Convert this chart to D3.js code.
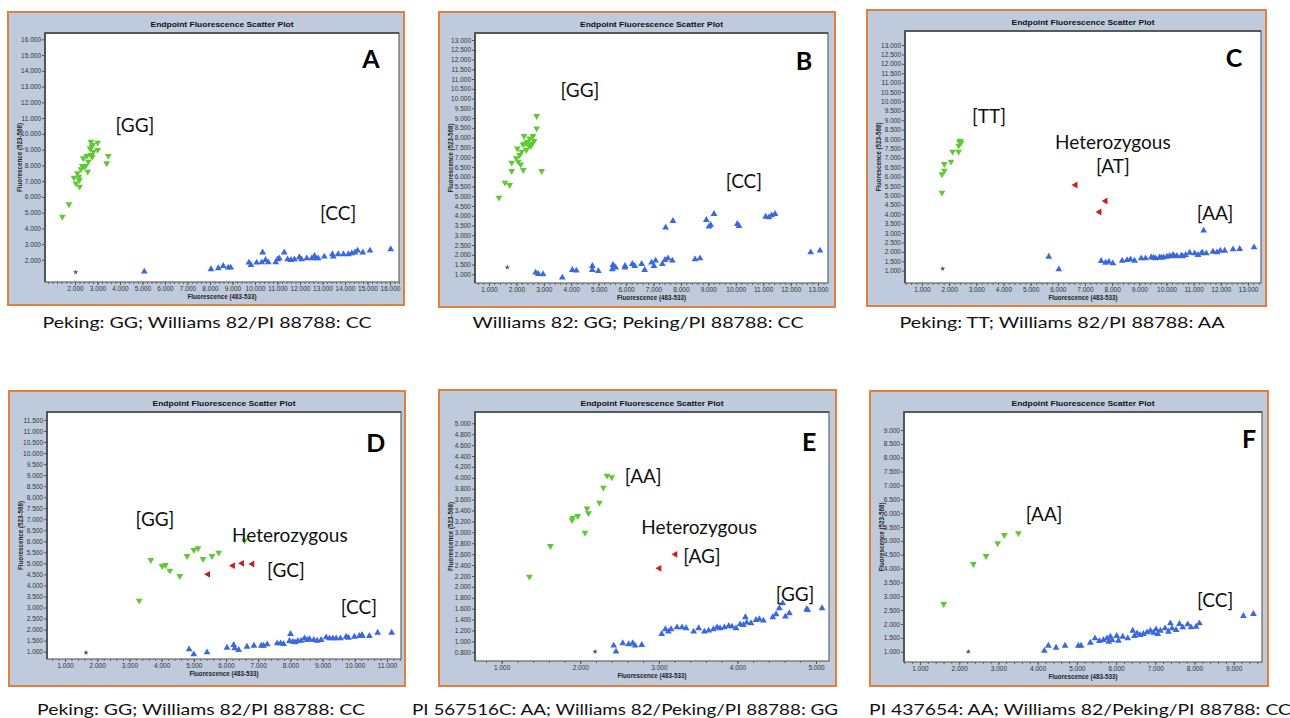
<!DOCTYPE html>
<html>
<head>
<meta charset="utf-8">
<script src="https://cdn.jsdelivr.net/npm/d3@7"></script>
<style>
    body { margin: 0; background: #fff; }
    svg { display: block; }
</style>
</head>
<body>
<script>
(function () {

    'use strict'

    // ---- data (fluorescence units) ----

    // panel A
    const aGreen = [[1437, 4748], [1733, 5530], [1956, 7222], [2044, 6860], [2104, 7500], [2178, 7285], [2207, 6650],
        [2193, 7074], [2267, 7750], [2326, 7960], [2415, 7920], [2370, 8450], [2474, 7980], [2518, 8600], [2563, 7600],
        [2593, 8240], [2667, 9080], [2696, 8660], [2711, 9500], [2741, 9190], [2770, 8550], [2785, 9290], [2815, 8870],
        [3007, 9440], [3007, 8980], [3407, 8130], [3481, 8600]]
    const aBlue = [[5081, 1260], [8044, 1410], [8370, 1470], [8590, 1620], [8810, 1510], [8920, 1510], [9730, 1830],
        [9820, 1680], [10070, 1830], [10300, 1850], [10340, 2470], [10470, 2000], [10590, 1850], [10920, 1850],
        [11010, 2040], [11080, 2100], [11300, 2470], [11450, 2040], [11600, 2000], [11750, 2040], [11970, 2170],
        [12070, 2040], [12300, 2100], [12520, 2100], [12640, 2250], [12710, 2100], [12810, 2100], [13080, 2210],
        [13440, 2360], [13480, 2210], [13700, 2360], [13930, 2360], [14150, 2360], [14300, 2420], [14440, 2470],
        [14560, 2590], [14790, 2470], [15110, 2590], [16030, 2680]]
    const aRed = []
    const aGray = [[2030, 1220]]

    // panel B
    const bGreen = [[1365, 4925], [1584, 5693], [1754, 5573], [1827, 6290], [1827, 6717], [1997, 6940], [2033, 7450],
        [2070, 6770], [2119, 7110], [2155, 6630], [2191, 7280], [2240, 7655], [2277, 8082], [2252, 6340], [2313, 7706],
        [2362, 7365], [2398, 7790], [2435, 7620], [2483, 7960], [2520, 7570], [2605, 8080], [2641, 7830], [2739, 8475],
        [2739, 9105], [2921, 6290], [2580, 7706]]
    const bBlue = [[2702, 1085], [2800, 1017], [2970, 1000], [3675, 830], [4040, 1222], [4185, 1188], [4770, 1427],
        [4770, 1222], [4988, 1170], [5500, 1256], [5520, 1478], [5560, 1390], [5620, 1340], [5960, 1427], [5960, 1340],
        [6228, 1530], [6313, 1427], [6568, 1530], [6678, 1222], [6930, 1597], [7018, 1427], [7079, 1700], [7322, 1530],
        [7420, 1734], [7444, 3389], [7529, 1819], [7711, 3730], [7687, 1700], [8514, 1768], [8696, 1819], [8927, 3782],
        [9024, 3440], [9085, 3525], [9207, 4089], [10058, 3577], [10119, 3474], [11091, 3952], [11213, 3918],
        [11310, 4020], [11432, 4089], [12733, 2126], [13073, 2212]]
    const bRed = []
    const bGray = [[1669, 1358]]

    // panel C
    const cGreen = [[1737, 5149], [1737, 6124], [1823, 6319], [1823, 6674], [2069, 6798], [2130, 7330], [2351, 7649],
        [2351, 7330], [2376, 7862], [2437, 7809], [2413, 7915]]
    const cBlue = [[5668, 1745], [6037, 1071], [7597, 1514], [7757, 1426], [7880, 1479], [8027, 1390], [8370, 1532],
        [8677, 1603], [8825, 1532], [9071, 1656], [9231, 1656], [9440, 1709], [9600, 1656], [9747, 1709], [9894, 1709],
        [10017, 1745], [10115, 1780], [10238, 1833], [10386, 1780], [10545, 1798], [10705, 1833], [10853, 1957],
        [11037, 1922], [11160, 1833], [11283, 1922], [11320, 1957], [11369, 3128], [11467, 1922], [11712, 2011],
        [11860, 1975], [11982, 2064], [12142, 2064], [12449, 2135], [12695, 2152], [13223, 2241], [9520, 1680],
        [9810, 1690], [10300, 1760], [10600, 1770], [8550, 1560]]
    const cRed = [[6651, 5557], [7757, 4706], [7535, 4121]]
    const cGray = [[1762, 1106]]

    // panel D
    const dGreen = [[3304, 3311], [3665, 5154], [4017, 4882], [4120, 4927], [4254, 4671], [4564, 4429], [4791, 5335],
        [4998, 5607], [5132, 5683], [5287, 5199], [5566, 5335], [5773, 5486], [6579, 6030]]
    const dBlue = [[4853, 1106], [4998, 879], [5411, 970], [6031, 1181], [6238, 1302], [6269, 1151], [6393, 1076],
        [6651, 1227], [6868, 1272], [7095, 1272], [7167, 1272], [7281, 1332], [7591, 1378], [7694, 1378], [7787, 1347],
        [8004, 1800], [7973, 1483], [8076, 1453], [8149, 1423], [8231, 1483], [8335, 1498], [8438, 1604], [8521, 1529],
        [8593, 1574], [8727, 1529], [8831, 1498], [8955, 1529], [9110, 1650], [9213, 1604], [9316, 1604], [9420, 1604],
        [9554, 1604], [9730, 1680], [9802, 1634], [9988, 1680], [10143, 1710], [10215, 1710], [10453, 1710],
        [10711, 1861], [11145, 1861], [10225, 1755]]
    const dRed = [[5442, 4505], [6217, 4897], [6496, 5003], [6816, 4973]]
    const dGray = [[1651, 955]]

    // panel E
    const eGreen = [[1352, 2188], [1619, 2750], [1895, 3227], [1904, 3270], [1967, 3300], [2060, 2994], [2086, 3440],
        [2103, 3349], [2243, 3544], [2294, 3820], [2340, 4040], [2400, 4009]]
    const eBlue = [[2425, 922], [2455, 812], [2540, 965], [2616, 947], [2667, 965], [2697, 922], [2782, 935],
        [3036, 1136], [3083, 1222], [3121, 1179], [3155, 1222], [3231, 1258], [3295, 1258], [3346, 1240], [3443, 1179],
        [3507, 1240], [3579, 1179], [3634, 1197], [3694, 1222], [3740, 1258], [3778, 1240], [3834, 1258], [3889, 1283],
        [3931, 1271], [3982, 1240], [4033, 1313], [4075, 1301], [4101, 1442], [4118, 1344], [4173, 1332], [4236, 1393],
        [4278, 1405], [4330, 1381], [4449, 1442], [4491, 1497], [4533, 1607], [4576, 1699], [4610, 1454], [4661, 1515],
        [4881, 1589], [5076, 1607], [4894, 1576]]
    const eRed = [[3006, 2340], [3210, 2597]]
    const eGray = [[2188, 812]]

    // panel F
    const fGreen = [[1604, 2721], [2361, 4165], [2684, 4454], [2981, 4911], [3151, 5212], [3509, 5272]]
    const fBlue = [[4172, 1036], [4274, 1217], [4469, 1144], [4699, 1217], [5039, 1217], [5107, 1217], [5345, 1325],
        [5464, 1481], [5575, 1385], [5677, 1421], [5770, 1481], [5813, 1361], [5855, 1541], [5898, 1421], [6017, 1565],
        [6060, 1397], [6170, 1541], [6298, 1481], [6425, 1758], [6468, 1565], [6536, 1662], [6612, 1602], [6697, 1638],
        [6791, 1698], [6876, 1758], [6952, 1686], [7020, 1806], [7063, 1638], [7131, 1758], [7250, 1842], [7335, 1722],
        [7386, 2023], [7429, 1842], [7531, 1782], [7616, 1999], [7701, 1878], [7828, 1987], [7913, 1878], [8041, 1902],
        [8126, 2023], [9249, 2288], [9503, 2360]]
    const fRed = []
    const fGray = [[2233, 1000]]

    // tick values
    const aXTicks = d3.range(2000, 16001, 1000), aYTicks = d3.range(2000, 16001, 1000)
    const bXTicks = d3.range(1000, 13001, 1000), bYTicks = d3.range(1000, 13001, 500)
    const cXTicks = d3.range(1000, 13001, 1000), cYTicks = d3.range(1000, 13001, 500)
    const dXTicks = d3.range(1000, 11001, 1000), dYTicks = d3.range(1000, 11501, 500)
    const eXTicks = d3.range(1000, 5001, 1000), eYTicks = d3.range(800, 5001, 200)
    const fXTicks = d3.range(1000, 9001, 1000), fYTicks = d3.range(1000, 9001, 500)

    // texts
    const plotTitle = 'Endpoint Fluorescence Scatter Plot'
    const xTitle = 'Fluorescence (483-533)'
    const yTitle = 'Fluorescence (523-568)'
    const captions = [
        'Peking: GG; Williams 82/PI 88788: CC',
        'Williams 82: GG; Peking/PI 88788: CC',
        'Peking: TT; Williams 82/PI 88788: AA',
        'Peking: GG; Williams 82/PI 88788: CC',
        'PI 567516C: AA; Williams 82/Peking/PI 88788: GG',
        'PI 437654: AA; Williams 82/Peking/PI 88788: CC'
    ]
    const letters = ['A', 'B', 'C', 'D', 'E', 'F']
    const aNotes = ['[GG]', '[CC]']
    const bNotes = ['[GG]', '[CC]']
    const cNotes = ['[TT]', 'Heterozygous', '[AT]', '[AA]']
    const dNotes = ['[GG]', 'Heterozygous', '[GC]', '[CC]']
    const eNotes = ['[AA]', 'Heterozygous', '[AG]', '[GG]']
    const fNotes = ['[AA]', '[CC]']

    // ---- layout ----
    const panels = [
        { box: [8, 12, 404, 305], plot: [45, 33, 399, 282], x: [667, 16400], y: [600, 16400],
          xTicks: aXTicks, yTicks: aYTicks, green: aGreen, blue: aBlue, red: aRed, gray: aGray,
          notes: aNotes, notePos: [[0.254, 0.369], [0.828, 0.719]], letterPos: [0.921, 0.10],
          cap: [207, 321, 329] },
        { box: [439, 12, 835, 307], plot: [475, 33, 828, 283], x: [490, 13365], y: [554, 13360],
          xTicks: bXTicks, yTicks: bYTicks, green: bGreen, blue: bBlue, red: bRed, gray: bGray,
          notes: bNotes, notePos: [[0.297, 0.224], [0.762, 0.588]], letterPos: [0.932, 0.108],
          cap: [638, 321, 331] },
        { box: [867, 10, 1266, 306], plot: [905, 31, 1261, 283], x: [375, 13480], y: [345, 13745],
          xTicks: cXTicks, yTicks: cYTicks, green: cGreen, blue: cBlue, red: cRed, gray: cGray,
          notes: cNotes, notePos: [[0.236, 0.337], [0.584, 0.44], [0.584, 0.532], [0.871, 0.722]], letterPos: [0.924, 0.103],
          cap: [1062, 321, 325] },
        { box: [9, 391, 405, 686], plot: [47, 412, 401, 659], x: [440, 11435], y: [669, 11860],
          xTicks: dXTicks, yTicks: dYTicks, green: dGreen, blue: dBlue, red: dRed, gray: dGray,
          notes: dNotes, notePos: [[0.305, 0.433], [0.686, 0.494], [0.675, 0.636], [0.881, 0.789]], letterPos: [0.929, 0.121],
          cap: [201, 708, 328] },
        { box: [439, 390, 836, 686], plot: [475, 412, 829, 661], x: [660, 5165], y: [640, 5207],
          xTicks: eXTicks, yTicks: eYTicks, green: eGreen, blue: eBlue, red: eRed, gray: eGray,
          notes: eNotes, notePos: [[0.475, 0.257], [0.633, 0.458], [0.641, 0.578], [0.904, 0.727]], letterPos: [0.944, 0.116],
          cap: [625, 708, 426] },
        { box: [870, 391, 1268, 686], plot: [904, 412, 1262, 662], x: [592, 9722], y: [628, 9650],
          xTicks: fXTicks, yTicks: fYTicks, green: fGreen, blue: fBlue, red: fRed, gray: fGray,
          notes: fNotes, notePos: [[0.391, 0.404], [0.869, 0.748]], letterPos: [0.964, 0.104],
          cap: [1080, 708, 422] }
    ]

    const fmt = v => (v / 1000).toFixed(3)

    const svg = d3.select('body')
        .append('svg')
        .attr('width', 1290)
        .attr('height', 718)

    panels.forEach((p, i) => drawPanel(p, i))

    function drawPanel(p, i) {
        const [bx0, by0, bx1, by1] = p.box
        const [px0, py0, px1, py1] = p.plot
        const g = svg.append('g')

        // frame
        g.append('rect')
            .attr('x', bx0).attr('y', by0)
            .attr('width', bx1 - bx0).attr('height', by1 - by0)
            .attr('fill', '#bfcbdd')
            .attr('stroke', '#e2803f')
            .attr('stroke-width', 2)

        g.append('text')
            .attr('x', (px0 + px1) / 2)
            .attr('y', py0 - 6)
            .attr('text-anchor', 'middle')
            .attr('textLength', 143)
            .attr('lengthAdjust', 'spacingAndGlyphs')
            .style('font', 'bold 8px "Liberation Sans", Arial, sans-serif')
            .attr('fill', '#111')
            .text(plotTitle)

        g.append('rect')
            .attr('x', px0).attr('y', py0)
            .attr('width', px1 - px0).attr('height', py1 - py0)
            .attr('fill', '#fff')

        const xScale = d3.scaleLinear().domain(p.x).range([px0, px1])
        const yScale = d3.scaleLinear().domain(p.y).range([py1, py0])

        // x axis
        const step = p.xTicks[1] - p.xTicks[0]
        const minor = d3.range(p.x[0], p.x[1], step / 5)
            .map(v => Math.ceil(v / (step / 5)) * (step / 5))
            .filter(v => v <= p.x[1])
        const xAxis = g.append('g')
            .attr('transform', 'translate(0,' + py1 + ')')
            .call(d3.axisBottom(xScale).tickValues(minor).tickSize(2).tickFormat(''))
        xAxis.select('.domain').remove()
        xAxis.selectAll('line').attr('stroke', '#666')

        const xMajor = g.append('g')
            .attr('transform', 'translate(0,' + py1 + ')')
            .call(d3.axisBottom(xScale).tickValues(p.xTicks).tickSize(3).tickPadding(1).tickFormat(fmt))
        xMajor.select('.domain').remove()
        xMajor.selectAll('line').attr('stroke', '#555')
        xMajor.selectAll('text')
            .style('font', '6.5px "Liberation Sans", Arial, sans-serif')
            .attr('fill', '#333')

        // y axis
        const yAxis = g.append('g')
            .attr('transform', 'translate(' + px0 + ',0)')
            .call(d3.axisLeft(yScale).tickValues(p.yTicks).tickSize(3).tickPadding(1).tickFormat(fmt))
        yAxis.select('.domain').remove()
        yAxis.selectAll('line').attr('stroke', '#555')
        yAxis.selectAll('text')
            .style('font', '6.5px "Liberation Sans", Arial, sans-serif')
            .attr('fill', '#333')

        // axis titles
        g.append('text')
            .attr('x', (px0 + px1) / 2)
            .attr('y', py1 + 17)
            .attr('text-anchor', 'middle')
            .attr('textLength', 69)
            .attr('lengthAdjust', 'spacingAndGlyphs')
            .style('font', 'bold 7px "Liberation Sans", Arial, sans-serif')
            .attr('fill', '#222')
            .text(xTitle)

        g.append('text')
            .attr('transform', 'translate(' + (bx0 + 14) + ',' + ((py0 + py1) / 2) + ') rotate(-90)')
            .attr('text-anchor', 'middle')
            .attr('textLength', 69)
            .attr('lengthAdjust', 'spacingAndGlyphs')
            .style('font', 'bold 7px "Liberation Sans", Arial, sans-serif')
            .attr('fill', '#222')
            .text(yTitle)

        // plot border (inset look)
        g.append('rect')
            .attr('x', px0).attr('y', py0)
            .attr('width', px1 - px0).attr('height', py1 - py0)
            .attr('fill', 'none')
            .attr('stroke', '#666')
            .attr('stroke-width', 1.2)
        g.append('path')
            .attr('d', 'M' + px0 + ',' + py1 + 'V' + py0 + 'H' + px1)
            .attr('fill', 'none')
            .attr('stroke', '#444')
            .attr('stroke-width', 1.6)

        // points
        const tri = d3.symbol().type(d3.symbolTriangle).size(20)
        const star = d3.symbol().type(d3.symbolStar).size(9)

        g.selectAll('.blue')
            .data(p.blue)
            .enter()
            .append('path')
            .attr('d', tri)
            .attr('transform', d => 'translate(' + xScale(d[0]) + ',' + yScale(d[1]) + ')')
            .attr('fill', '#3a68de')

        g.selectAll('.green')
            .data(p.green)
            .enter()
            .append('path')
            .attr('d', tri)
            .attr('transform', d => 'translate(' + xScale(d[0]) + ',' + yScale(d[1]) + ') rotate(180)')
            .attr('fill', '#5fc832')

        g.selectAll('.red')
            .data(p.red)
            .enter()
            .append('path')
            .attr('d', tri)
            .attr('transform', d => 'translate(' + xScale(d[0]) + ',' + yScale(d[1]) + ') rotate(-90)')
            .attr('fill', '#c81e1e')

        g.selectAll('.gray')
            .data(p.gray)
            .enter()
            .append('path')
            .attr('d', star)
            .attr('transform', d => 'translate(' + xScale(d[0]) + ',' + yScale(d[1]) + ')')
            .attr('fill', '#555')

        // genotype notes
        p.notes.forEach((t, k) => {
            g.append('text')
                .attr('x', px0 + p.notePos[k][0] * (px1 - px0))
                .attr('y', py0 + p.notePos[k][1] * (py1 - py0))
                .attr('text-anchor', 'middle')
                .attr('dominant-baseline', 'central')
                .style('font', '19px Lato, "Open Sans", sans-serif')
                .attr('fill', '#111')
                .text(t)
        })

        // panel letter
        g.append('text')
            .attr('x', px0 + p.letterPos[0] * (px1 - px0))
            .attr('y', py0 + p.letterPos[1] * (py1 - py0))
            .attr('text-anchor', 'middle')
            .attr('dominant-baseline', 'central')
            .style('font', 'bold 25px Lato, "Open Sans", sans-serif')
            .attr('fill', '#000')
            .text(letters[i])

        // caption under panel
        svg.append('text')
            .attr('x', p.cap[0])
            .attr('y', p.cap[1])
            .attr('text-anchor', 'middle')
            .attr('dominant-baseline', 'central')
            .attr('textLength', p.cap[2])
            .attr('lengthAdjust', 'spacingAndGlyphs')
            .style('font', '16px Lato, "Open Sans", sans-serif')
            .attr('fill', '#111')
            .text(captions[i])
    }
})()
</script>
</body>
</html>
